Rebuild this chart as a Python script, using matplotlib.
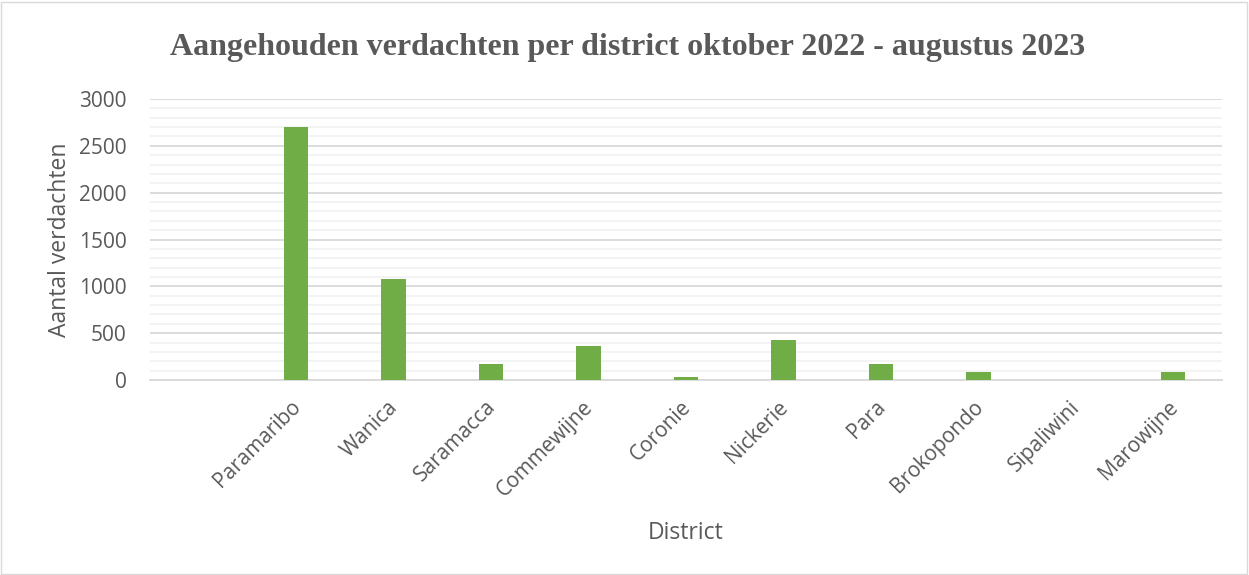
import matplotlib
matplotlib.use("Agg")
import matplotlib.pyplot as plt
from matplotlib.ticker import MultipleLocator
from matplotlib.patches import Rectangle
from matplotlib.transforms import ScaledTranslation

categories = ["", "Paramaribo", "Wanica", "Saramacca", "Commewijne", "Coronie",
              "Nickerie", "Para", "Brokopondo", "Sipaliwini", "Marowijne"]
values = [0, 2700, 1075, 175, 365, 30, 425, 167, 89, 3, 85]

title = "Aangehouden verdachten per district oktober 2022 - augustus 2023"
ylabel = "Aantal verdachten"
xlabel = "District"

W, H = 1249, 575
fig = plt.figure(figsize=(W / 100, H / 100), dpi=100)
ax = fig.add_axes([150 / W, 1 - 380 / H, (1222 - 150) / W, (380 - 99) / H])

x = list(range(len(categories)))
ax.bar(x, values, width=0.25, color="#70ad47", zorder=3)

ax.set_xlim(-0.5, len(categories) - 0.5)
ax.set_ylim(0, 3000)
ax.yaxis.set_major_locator(MultipleLocator(500))
ax.yaxis.set_minor_locator(MultipleLocator(100))
ax.grid(axis="y", which="major", color="#d9d9d9", linewidth=1.3, zorder=0)
ax.grid(axis="y", which="minor", color="#f2f2f2", linewidth=1.3, zorder=0)
for s in ["top", "right", "left"]:
    ax.spines[s].set_visible(False)
ax.spines["bottom"].set_color("#d9d9d9")
ax.spines["bottom"].set_linewidth(1.3)
ax.tick_params(axis="both", which="both", length=0)
ax.tick_params(axis="y", labelsize=15, labelcolor="#595959", pad=17)
ax.tick_params(axis="x", labelsize=15, labelcolor="#595959", pad=9)
ax.set_xticks(x)
ax.set_xticklabels(categories, rotation=45, ha="right", rotation_mode="anchor")
offset = ScaledTranslation(-6 / 100, -4 / 100, fig.dpi_scale_trans)
for lab in ax.get_xticklabels():
    lab.set_fontfamily("Open Sans")
    lab.set_transform(lab.get_transform() + offset)
for lab in ax.get_yticklabels():
    lab.set_fontfamily("Open Sans")

fig.text(60 / W, 1 - 240 / H, ylabel, rotation=90, ha="center", va="center",
         fontsize=16.5, color="#595959", family="Open Sans")
fig.text(686 / W, 1 - 533 / H, xlabel, ha="center", va="center",
         fontsize=16.5, color="#595959", family="Open Sans")
fig.text(628 / W, 1 - 48 / H, title, ha="center", va="center",
         fontsize=23, fontweight="bold", color="#595959", family="Liberation Serif")

fig.patches.append(Rectangle((1 / W, 1 / H), (W - 3) / W, (H - 3) / H,
                             transform=fig.transFigure, fill=False,
                             edgecolor="#d9d9d9", linewidth=1))

fig.savefig("out.png", dpi=100)
